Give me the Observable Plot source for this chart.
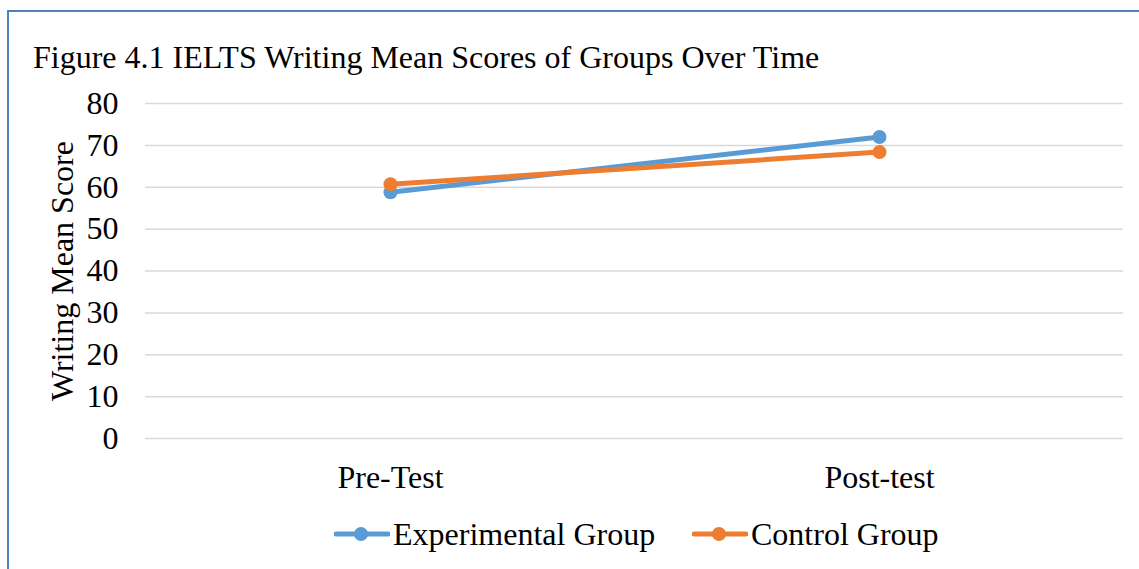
<!DOCTYPE html>
<html>
<head>
<meta charset="utf-8">
<script src="https://cdn.jsdelivr.net/npm/d3@7"></script>
<script src="https://cdn.jsdelivr.net/npm/@observablehq/plot@0.6"></script>
<style>
  html, body { margin: 0; padding: 0; background: #fff; }
  #wrap { position: relative; width: 1139px; height: 569px; overflow: hidden; font-family: "Liberation Serif", "Times New Roman", serif; color: #000; }
  #frame { position: absolute; left: 7px; top: 10px; width: 1200px; height: 600px; border-left: 2px solid #4f81bd; border-top: 2px solid #4f81bd; }
  #title { position: absolute; left: 33px; top: 41px; font-size: 32px; line-height: 32px; white-space: nowrap; }
  #chart { position: absolute; left: 0; top: 80px; }
  #legend { position: absolute; top: 516px; left: 0; height: 36px; width: 1139px; }
  .item { position: absolute; top: 0; display: flex; align-items: center; height: 36px; font-size: 32px; white-space: nowrap; }
  .item svg { display: block; }
</style>
</head>
<body>
<div id="wrap">
  <div id="frame"></div>
  <div id="title">Figure 4.1 IELTS Writing Mean Scores of Groups Over Time</div>
  <div id="chart"></div>
  <div id="legend"></div>
</div>
<script>
const categories = ["Pre-Test", "Post-test"];
const experimental = [58.8, 72.0];
const control = [60.7, 68.4];
const seriesNames = ["Experimental Group", "Control Group"];
const seriesColors = ["#5B9BD5", "#ED7D31"];
const yTicks = [0, 10, 20, 30, 40, 50, 60, 70, 80];
const yLabel = "Writing Mean Score";

const rows = [];
[experimental, control].forEach((vals, s) => {
  vals.forEach((v, i) => rows.push({series: seriesNames[s], category: categories[i], value: v}));
});

const plot = Plot.plot({
  width: 1139,
  height: 420,
  marginTop: 23,
  marginBottom: 62,
  marginLeft: 145,
  marginRight: 16,
  style: {fontFamily: "'Liberation Serif', 'Times New Roman', serif", fontSize: "32px", color: "#000", background: "transparent", overflow: "visible"},
  x: {type: "point", domain: categories, padding: 0.5, label: null},
  y: {domain: [0, 80], label: null},
  color: {domain: seriesNames, range: seriesColors},
  marks: [
    Plot.gridY(yTicks, {stroke: "#d9d9d9", strokeOpacity: 1, strokeWidth: 1.5}),
    Plot.axisY(yTicks, {tickSize: 0, tickPadding: 27, fontSize: 32, label: null}),
    Plot.axisX({tickSize: 0, tickPadding: 27, fontSize: 32, label: null}),
    Plot.text([yLabel], {frameAnchor: "left", dx: -83, rotate: -90, textAnchor: "middle", fontSize: 32, fill: "#000"}),
    Plot.line(rows, {x: "category", y: "value", z: "series", stroke: "series", strokeWidth: 5, strokeLinecap: "round"}),
    Plot.dot(rows, {x: "category", y: "value", fill: "series", r: 7, stroke: "none"})
  ]
});
document.getElementById("chart").appendChild(plot);

const legend = document.getElementById("legend");
const legendPos = [334, 692];
seriesNames.forEach((name, i) => {
  const item = document.createElement("div");
  item.className = "item";
  item.style.left = legendPos[i] + "px";
  item.innerHTML = `<svg width="56" height="20"><line x1="2" y1="10" x2="54" y2="10" stroke="${seriesColors[i]}" stroke-width="5" stroke-linecap="round"/><circle cx="27" cy="10" r="7" fill="${seriesColors[i]}"/></svg><span style="margin-left:3px">${name}</span>`;
  legend.appendChild(item);
});
</script>
</body>
</html>
